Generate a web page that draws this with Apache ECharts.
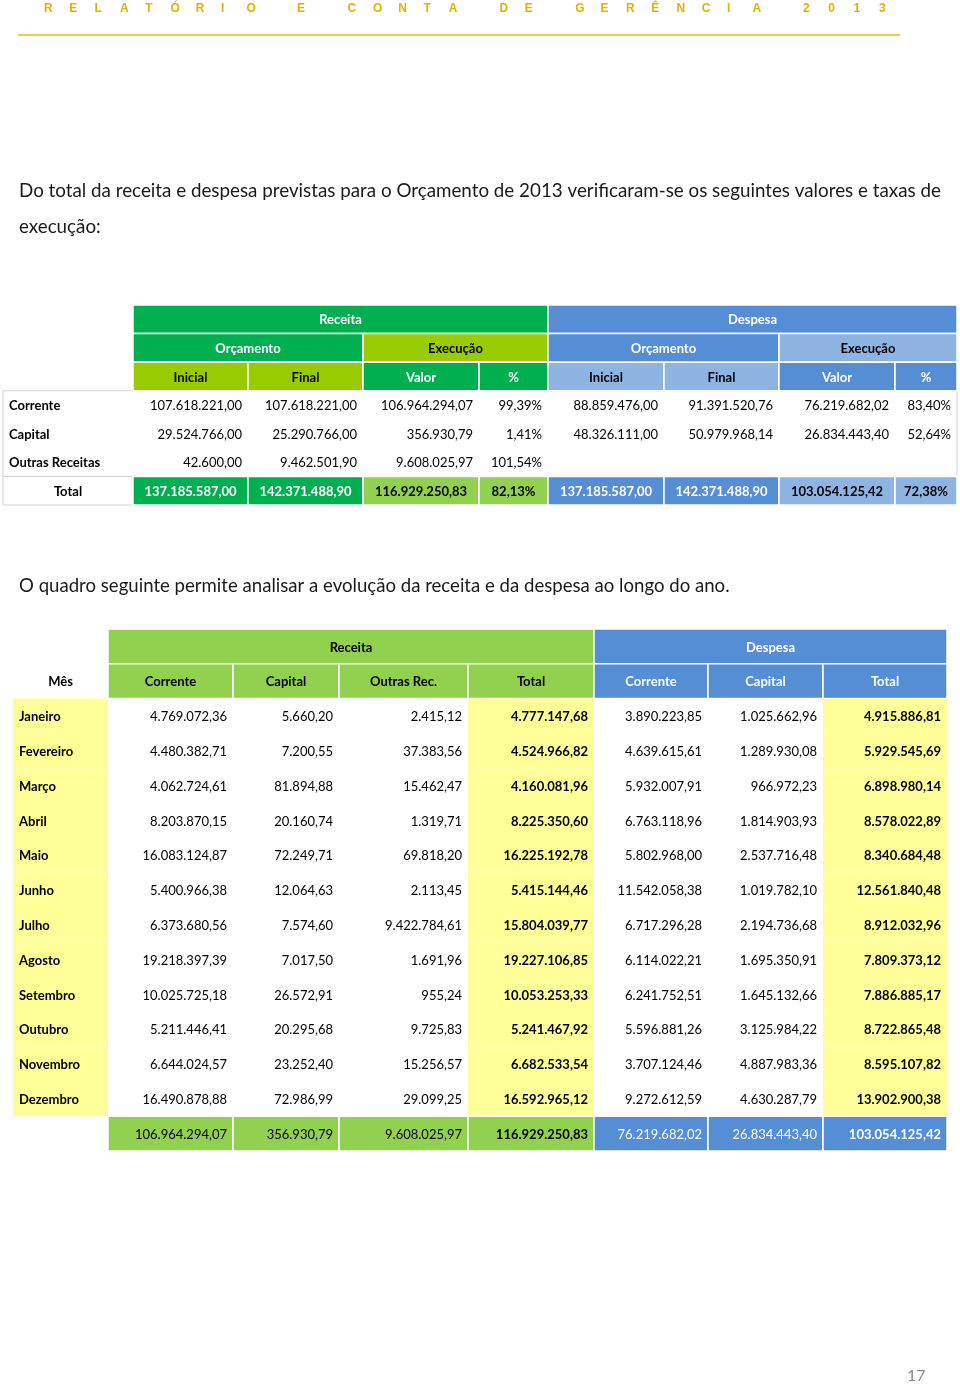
<!DOCTYPE html>
<html>
<head>
<meta charset="utf-8">
<script src="https://cdn.jsdelivr.net/npm/echarts@6/dist/echarts.min.js"></script>
<style>
  body { margin: 0; background: #fff; }
  #main { width: 960px; height: 1385px; }
</style>
</head>
<body>
<div id="main"></div>
<script>
// ---- data: quadro 1 (orçamento vs execução) ----
const t1Rows = ['Corrente', 'Capital', 'Outras Receitas'];
const recInicial = [107618221.00, 29524766.00, 42600.00];
const recFinal = [107618221.00, 25290766.00, 9462501.90];
const recValor = [106964294.07, 356930.79, 9608025.97];
const recPct = [99.39, 1.41, 101.54];
const desInicial = [88859476.00, 48326111.00, null];
const desFinal = [91391520.76, 50979968.14, null];
const desValor = [76219682.02, 26834443.40, null];
const desPct = [83.40, 52.64, null];
const recTotais = [137185587.00, 142371488.90, 116929250.83, 82.13];
const desTotais = [137185587.00, 142371488.90, 103054125.42, 72.38];
const t1Head1 = ['Receita', 'Despesa'];
const t1Head2 = ['Orçamento', 'Execução', 'Orçamento', 'Execução'];
const t1Head3 = ['Inicial', 'Final', 'Valor', '%', 'Inicial', 'Final', 'Valor', '%'];

// ---- data: quadro 2 (evolução mensal) ----
const meses = ['Janeiro', 'Fevereiro', 'Março', 'Abril', 'Maio', 'Junho', 'Julho',
  'Agosto', 'Setembro', 'Outubro', 'Novembro', 'Dezembro'];
const recCorrente = [4769072.36, 4480382.71, 4062724.61, 8203870.15, 16083124.87, 5400966.38,
  6373680.56, 19218397.39, 10025725.18, 5211446.41, 6644024.57, 16490878.88];
const recCapital = [5660.20, 7200.55, 81894.88, 20160.74, 72249.71, 12064.63,
  7574.60, 7017.50, 26572.91, 20295.68, 23252.40, 72986.99];
const recOutras = [2415.12, 37383.56, 15462.47, 1319.71, 69818.20, 2113.45,
  9422784.61, 1691.96, 955.24, 9725.83, 15256.57, 29099.25];
const recTotal = [4777147.68, 4524966.82, 4160081.96, 8225350.60, 16225192.78, 5415144.46,
  15804039.77, 19227106.85, 10053253.33, 5241467.92, 6682533.54, 16592965.12];
const desCorrente = [3890223.85, 4639615.61, 5932007.91, 6763118.96, 5802968.00, 11542058.38,
  6717296.28, 6114022.21, 6241752.51, 5596881.26, 3707124.46, 9272612.59];
const desCapital = [1025662.96, 1289930.08, 966972.23, 1814903.93, 2537716.48, 1019782.10,
  2194736.68, 1695350.91, 1645132.66, 3125984.22, 4887983.36, 4630287.79];
const desTotal = [4915886.81, 5929545.69, 6898980.14, 8578022.89, 8340684.48, 12561840.48,
  8912032.96, 7809373.12, 7886885.17, 8722865.48, 8595107.82, 13902900.38];
const anoTotais = [106964294.07, 356930.79, 9608025.97, 116929250.83, 76219682.02, 26834443.40, 103054125.42];
const t2Head1 = ['Receita', 'Despesa'];
const t2Head2 = ['Mês', 'Corrente', 'Capital', 'Outras Rec.', 'Total', 'Corrente', 'Capital', 'Total'];

// ---- layout ----
const t1Edges = [3, 133, 248, 363, 479, 548, 664, 779, 895, 957];
const t2Edges = [13, 108, 233, 339, 468, 594, 708, 823, 947];
const G = '#00B050', LIME = '#99CC00', LG = '#92D050', B = '#558ED5', LB = '#8DB4E2', Y = '#FFFF99';
const FONT = 'Lato, "Open Sans", sans-serif';
const FS = 13;

function fmt(v) {
  if (v === null || v === undefined) return '';
  const parts = v.toFixed(2).split('.');
  return parts[0].replace(/\B(?=(\d{3})+(?!\d))/g, '.') + ',' + parts[1];
}
function pct(v) {
  if (v === null || v === undefined) return '';
  return v.toFixed(2).replace('.', ',') + '%';
}

// quadro 1 cells
const cells1 = [];
cells1.push({ c0: 0, c1: 9, r0: 3, r1: 6, fill: '#fff', stroke: '#D4D4D4' });
cells1.push({ c0: 0, c1: 9, r0: 6, r1: 7, fill: '#fff', stroke: '#D4D4D4' });
cells1.push({ c0: 1, c1: 5, r0: 0, text: t1Head1[0], fill: G, color: '#fff', bold: true });
cells1.push({ c0: 5, c1: 9, r0: 0, text: t1Head1[1], fill: B, color: '#fff', bold: true });
[[1, 3, G, '#fff'], [3, 5, LIME, '#000'], [5, 7, B, '#fff'], [7, 9, LB, '#000']].forEach((s, i) => {
  cells1.push({ c0: s[0], c1: s[1], r0: 1, text: t1Head2[i], fill: s[2], color: s[3], bold: true });
});
const h3Fill = [LIME, LIME, G, G, LB, LB, B, B];
const h3Col = ['#000', '#000', '#fff', '#fff', '#000', '#000', '#fff', '#fff'];
t1Head3.forEach((t, i) => {
  cells1.push({ c0: i + 1, c1: i + 2, r0: 2, text: t, fill: h3Fill[i], color: h3Col[i], bold: true });
});
t1Rows.forEach((name, i) => {
  const r = 3 + i;
  cells1.push({ c0: 0, c1: 1, r0: r, text: name, align: 'left', bold: true });
  const vals = [fmt(recInicial[i]), fmt(recFinal[i]), fmt(recValor[i]), pct(recPct[i]),
    fmt(desInicial[i]), fmt(desFinal[i]), fmt(desValor[i]), pct(desPct[i])];
  vals.forEach((t, j) => {
    if (t) cells1.push({ c0: j + 1, c1: j + 2, r0: r, text: t, align: 'right' });
  });
});
cells1.push({ c0: 0, c1: 1, r0: 6, text: 'Total', bold: true });
const totFill = [G, G, LG, LG, B, B, LB, LB];
const totCol = ['#fff', '#fff', '#000', '#000', '#fff', '#fff', '#000', '#000'];
const totVals = [fmt(recTotais[0]), fmt(recTotais[1]), fmt(recTotais[2]), pct(recTotais[3]),
  fmt(desTotais[0]), fmt(desTotais[1]), fmt(desTotais[2]), pct(desTotais[3])];
totVals.forEach((t, j) => {
  cells1.push({ c0: j + 1, c1: j + 2, r0: 6, text: t, fill: totFill[j], color: totCol[j], bold: true });
});

// quadro 2 cells
const cells2 = [];
cells2.push({ c0: 1, c1: 5, r0: 0, text: t2Head1[0], fill: LG, color: '#000', bold: true });
cells2.push({ c0: 5, c1: 8, r0: 0, text: t2Head1[1], fill: B, color: '#fff', bold: true });
t2Head2.forEach((t, i) => {
  if (i === 0) cells2.push({ c0: 0, c1: 1, r0: 1, text: t, bold: true });
  else cells2.push({ c0: i, c1: i + 1, r0: 1, text: t, fill: i < 5 ? LG : B, color: i < 5 ? '#000' : '#fff', bold: true });
});
meses.forEach((m, i) => {
  const r = 2 + i;
  cells2.push({ c0: 0, c1: 1, r0: r, text: m, align: 'left', bold: true, fill: Y, stroke: 'none' });
  const vals = [recCorrente[i], recCapital[i], recOutras[i], recTotal[i], desCorrente[i], desCapital[i], desTotal[i]];
  vals.forEach((v, j) => {
    const isTot = j === 3 || j === 6;
    cells2.push({ c0: j + 1, c1: j + 2, r0: r, text: fmt(v), align: 'right', bold: isTot,
      fill: isTot ? Y : null, stroke: 'none' });
  });
});
anoTotais.forEach((v, j) => {
  const isRec = j < 4;
  cells2.push({ c0: j + 1, c1: j + 2, r0: 14, text: fmt(v), align: 'right', bold: j === 3 || j === 6,
    fill: isRec ? LG : B, color: isRec ? '#000' : '#fff' });
});

function toData(cells, edges) {
  return cells.map(c => [edges[c.c0], edges[c.c1], c.r0, c.r1 !== undefined ? c.r1 : c.r0 + 1]);
}

function makeRender(cells, pad) {
  return function (params, api) {
    const c = cells[params.dataIndex];
    const p0 = api.coord([api.value(0), api.value(2)]);
    const p1 = api.coord([api.value(1), api.value(3)]);
    const x = p0[0], y = Math.min(p0[1], p1[1]);
    const w = p1[0] - p0[0], h = Math.abs(p1[1] - p0[1]);
    const children = [];
    if (c.fill || c.stroke) {
      const stroke = c.stroke === 'none' ? null : (c.stroke || '#fff');
      children.push({
        type: 'rect', shape: { x: x, y: y, width: w, height: h },
        style: { fill: c.fill || 'none', stroke: stroke, lineWidth: c.stroke ? 1 : 1.5 }
      });
    }
    if (c.text) {
      const align = c.align || 'center';
      const tx = align === 'left' ? x + pad : align === 'right' ? x + w - pad : x + w / 2;
      children.push({
        type: 'text', x: tx, y: y + h / 2 + 1,
        style: {
          text: c.text, align: align, verticalAlign: 'middle', fill: c.color || '#000',
          font: (c.bold ? 'bold ' : '') + FS + 'px ' + FONT
        }
      });
    }
    return { type: 'group', children: children };
  };
}

// header letters
const titulo = 'RELATÓRIO E CONTA DE GERÊNCIA 2013';
const graphics = [];
titulo.split('').forEach((ch, i) => {
  if (ch === ' ') return;
  graphics.push({
    type: 'text', x: 44 + i * 25.3, y: 9,
    style: { text: ch, fill: '#E6B000', verticalAlign: 'middle',
      font: 'bold 12px "Liberation Sans Narrow", "Liberation Sans", sans-serif' }
  });
});
graphics.push({ type: 'line', shape: { x1: 18, y1: 35, x2: 900, y2: 35 }, style: { stroke: '#EDBA10', lineWidth: 1.6 } });
const pFont = '18.8px ' + FONT;
graphics.push({ type: 'text', x: 19, y: 191,
  style: { text: 'Do total da receita e despesa previstas para o Orçamento de 2013 verificaram-se os seguintes valores e taxas de',
    fill: '#1a1a1a', font: pFont, verticalAlign: 'middle' } });
graphics.push({ type: 'text', x: 19, y: 227, style: { text: 'execução:', fill: '#1a1a1a', font: pFont, verticalAlign: 'middle' } });
graphics.push({ type: 'text', x: 19, y: 586,
  style: { text: 'O quadro seguinte permite analisar a evolução da receita e da despesa ao longo do ano.',
    fill: '#1a1a1a', font: '18.6px ' + FONT, verticalAlign: 'middle' } });
graphics.push({ type: 'text', x: 907, y: 1376, style: { text: '17', fill: '#8a8a8a', font: '16px ' + FONT, verticalAlign: 'middle' } });

const chart = echarts.init(document.getElementById('main'));
chart.setOption({
  animation: false,
  grid: [
    { left: 0, right: 0, top: 305, height: 200 },
    { left: 0, right: 0, top: 629, height: 522 }
  ],
  xAxis: [
    { type: 'value', gridIndex: 0, min: 0, max: 960, show: false },
    { type: 'value', gridIndex: 1, min: 0, max: 960, show: false }
  ],
  yAxis: [
    { type: 'value', gridIndex: 0, min: 0, max: 7, inverse: true, show: false },
    { type: 'value', gridIndex: 1, min: 0, max: 15, inverse: true, show: false }
  ],
  graphic: graphics,
  series: [
    { type: 'custom', name: 'quadro1', xAxisIndex: 0, yAxisIndex: 0, silent: true,
      renderItem: makeRender(cells1, 6), data: toData(cells1, t1Edges), clip: false },
    { type: 'custom', name: 'quadro2', xAxisIndex: 1, yAxisIndex: 1, silent: true,
      renderItem: makeRender(cells2, 6), data: toData(cells2, t2Edges), clip: false }
  ]
});
window.addEventListener('resize', () => chart.resize());
</script>
</body>
</html>
